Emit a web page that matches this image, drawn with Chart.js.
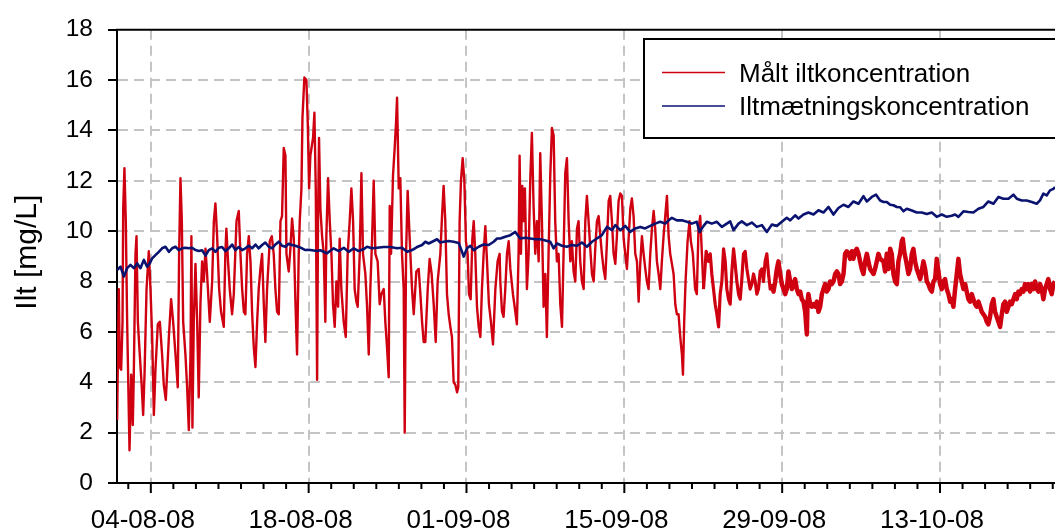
<!DOCTYPE html>
<html lang="da">

<head>
    <meta charset="UTF-8">
    <title>Ilt</title>
    <script src="https://cdn.jsdelivr.net/npm/chart.js"></script>
    <style>
        body {
            margin: 0;
            background: #fff;
        }

        .box {
            width: 1055px;
            height: 531px;
        }
    </style>
</head>

<body>
    <div class="box"><canvas id="myChart"></canvas></div>

    <script>
        // tid i dage efter 01-08-08 00:00
        const redDays = [
            0.01, 0.16, 0.25, 0.37, 0.49, 0.55, 0.66, 0.78, 0.90, 1.11,
            1.26, 1.40, 1.49, 1.64, 1.73, 1.85, 2.02, 2.20, 2.32, 2.44,
            2.62, 2.82, 2.97, 3.12, 3.27, 3.41, 3.62, 3.80, 4.00, 4.15,
            4.33, 4.60, 4.80, 4.98, 5.19, 5.39, 5.51, 5.63, 5.75, 5.87,
            6.07, 6.22, 6.37, 6.52, 6.60, 6.69, 6.81, 6.96, 7.11, 7.25,
            7.40, 7.55, 7.70, 7.85, 7.99, 8.23, 8.44, 8.59, 8.73, 8.88,
            9.06, 9.23, 9.47, 9.61, 9.70, 9.85, 10.00, 10.21, 10.36, 10.60,
            10.80, 10.95, 11.10, 11.25, 11.39, 11.54, 11.69, 11.84, 11.98, 12.13,
            12.28, 12.43, 12.57, 12.72, 12.87, 13.02, 13.16, 13.31, 13.55, 13.73,
            13.90, 14.05, 14.20, 14.35, 14.50, 14.64, 14.79, 14.94, 15.03, 15.23,
            15.38, 15.53, 15.68, 15.82, 15.97, 16.12, 16.21, 16.36, 16.45, 16.62,
            16.80, 16.92, 17.04,
            17.15, 17.39, 17.51, 17.63, 17.75, 17.83, 17.92, 18.04, 18.19, 18.34,
            18.48, 18.57, 18.72, 18.87, 19.02, 19.16, 19.31, 19.46, 19.61, 19.75,
            19.90, 20.11, 20.29, 20.46, 20.64, 20.79, 20.94, 21.08, 21.23, 21.35,
            21.53, 21.68, 21.82, 22.03, 22.18, 22.33, 22.47, 22.62, 22.77, 22.92,
            23.12, 23.30, 23.45, 23.66, 23.80, 23.95, 24.10, 24.19, 24.31, 24.48,
            24.63, 24.75, 24.84, 24.99, 25.13, 25.28, 25.43, 25.52, 25.64, 25.78,
            25.96, 26.17, 26.32, 26.55, 26.76, 26.91, 27.06, 27.20, 27.35, 27.56,
            27.73, 27.91, 28.09, 28.27, 28.44, 28.68, 28.83, 28.97, 29.12, 29.27,
            29.42, 29.57, 29.71, 29.86, 30.01, 30.16, 30.27, 30.39, 30.51, 30.66,
            30.81, 30.95, 31.10, 31.22, 31.37, 31.52, 31.64, 31.78, 31.93, 32.08,
            32.23, 32.37, 32.52, 32.67, 32.82, 32.99, 33.17, 33.35, 33.56, 33.76,
            33.94,
            34.00, 34.15, 34.29, 34.44, 34.59, 34.74, 34.89, 35.12, 35.33, 35.47,
            35.62, 35.71, 35.83, 35.95, 36.07, 36.18, 36.36, 36.51, 36.66, 36.80,
            36.95, 37.10, 37.25, 37.40, 37.54, 37.69, 37.84, 37.99, 38.13, 38.28,
            38.43, 38.58, 38.73, 38.87, 39.02, 39.17, 39.32, 39.47, 39.61, 39.76,
            39.91, 40.06, 40.21, 40.35, 40.50, 40.65, 40.80, 40.94, 41.09, 41.24,
            41.39, 41.54, 41.68, 41.83, 41.98, 42.13, 42.28, 42.42, 42.57, 42.72,
            42.87, 43.01, 43.16, 43.31, 43.46, 43.61, 43.75, 43.90, 44.05, 44.20,
            44.34, 44.49, 44.64, 44.79, 44.94, 45.08, 45.23, 45.38, 45.53, 45.67,
            45.82, 45.97, 46.12, 46.27, 46.41, 46.56, 46.71, 46.86, 47.00, 47.15,
            47.30, 47.45, 47.60, 47.74, 47.89, 48.04, 48.19, 48.33, 48.48, 48.63,
            48.78, 48.93, 49.07, 49.22, 49.37, 49.52, 49.66, 49.81, 49.96, 50.11,
            50.20, 50.31, 50.43, 50.61, 50.78, 50.90, 51.08, 51.28, 51.43, 51.58,
            51.73,
            52.02, 52.26, 52.47, 52.62, 52.76, 52.91, 53.06, 53.21, 53.36, 53.50,
            53.65, 53.80, 53.95, 54.09, 54.24, 54.39, 54.54, 54.69, 54.83, 54.98,
            55.13, 55.28, 55.42, 55.57, 55.72, 55.87, 56.01, 56.16, 56.31, 56.46,
            56.61, 56.75, 56.90, 57.05, 57.20, 57.34, 57.49, 57.64, 57.79, 57.94,
            58.08, 58.23, 58.38, 58.53, 58.67, 58.82, 58.97, 59.12, 59.27, 59.41,
            59.56, 59.71, 59.86, 60.00, 60.15, 60.30, 60.45, 60.60, 60.74, 60.89,
            61.04, 61.19, 61.25, 61.33, 61.48, 61.63, 61.78, 61.93, 62.07, 62.22,
            62.37, 62.52, 62.66, 62.81, 62.96, 63.11, 63.25, 63.40, 63.55, 63.70,
            63.85, 63.99, 64.14, 64.29, 64.44, 64.58, 64.73, 64.88, 65.03, 65.18,
            65.32, 65.47, 65.62, 65.77, 65.91, 66.06, 66.21, 66.36, 66.51, 66.65,
            66.80, 66.95, 67.10, 67.24, 67.39, 67.54, 67.69,
            67.98, 68.13, 68.28, 68.43, 68.58, 68.72, 68.87, 69.02, 69.17, 69.31,
            69.46, 69.61, 69.70, 69.82, 70.00, 70.20, 70.35, 70.50, 70.64, 70.79,
            70.94, 71.09, 71.24, 71.38, 71.53, 71.68, 71.83, 71.97, 72.12, 72.27,
            72.42, 72.57, 72.71, 72.86, 73.01, 73.16, 73.30, 73.45, 73.60, 73.75,
            73.90, 74.04, 74.19, 74.34, 74.49, 74.63, 74.78, 74.93, 75.08, 75.23,
            75.37, 75.52, 75.67, 75.82, 75.96, 76.11, 76.26, 76.41, 76.56, 76.70,
            76.85, 77.00, 77.15, 77.29, 77.44, 77.59, 77.74, 77.88, 78.03, 78.18,
            78.33, 78.48, 78.62, 78.77, 78.92, 79.07, 79.21, 79.36, 79.51, 79.66,
            79.81, 79.95, 80.10, 80.25, 80.40, 80.54, 80.69, 80.84, 80.99, 81.14,
            81.28, 81.43, 81.58, 81.73, 81.87, 82.02, 82.17, 82.32, 82.46, 82.61,
            82.76, 82.91, 83.06, 83.20
        ];

        const redValues = [
            2.5, 7.7, 4.6, 4.5, 6.4, 10.9, 12.5, 10.4, 6.4, 1.3,
            4.3, 2.3, 4.3, 9.1, 9.8, 6.4, 5.1, 3.8, 2.7, 4.3,
            7.7, 9.2, 7.7, 5.8, 2.7, 4.5, 6.3, 6.4, 5.1, 3.9,
            3.3, 5.8, 7.3, 6.4, 5.1, 3.8, 9.1, 12.1, 10.4, 6.4,
            5.1, 3.8, 2.1, 5.1, 9.8, 2.2, 6.4, 8.7, 6.4, 3.4,
            7.1, 8.8, 8.0, 9.3, 8.3, 6.4, 8.0, 10.4, 11.1, 9.8,
            7.7, 6.8, 6.2, 9.1, 10.1, 8.8, 7.7, 6.7, 7.5, 10.4,
            10.8, 9.1, 7.7, 6.8, 6.7, 9.1, 9.8, 8.8, 6.8, 5.4,
            4.6, 6.4, 7.7, 8.5, 9.1, 7.1, 5.6, 7.7, 9.6, 9.8,
            9.1, 7.7, 6.8, 6.7, 10.4, 10.6, 13.3, 13.0, 9.1, 8.4,
            9.3, 10.5, 9.7, 7.3, 5.1, 9.1, 10.4, 11.7, 14.5, 16.1,
            16.0, 14.3, 11.7,
            13.0, 13.7, 14.7, 11.7, 4.1, 10.4, 13.7, 10.9, 9.8, 9.1,
            6.4, 9.8, 12.1, 10.4, 9.1, 7.1, 6.2, 8.0, 7.0, 9.7,
            7.7, 6.4, 5.8, 9.1, 10.4, 11.7, 10.4, 7.7, 7.2, 7.0,
            9.1, 12.3, 9.1, 8.3, 7.0, 5.1, 7.7, 9.6, 12.0, 9.1,
            8.8, 7.1, 7.5, 7.7, 6.4, 5.4, 4.2, 11.0, 9.1, 12.2,
            13.3, 14.3, 15.3, 11.7, 12.1, 9.1, 7.7, 2.0, 9.1, 11.6,
            9.7, 7.7, 6.7, 8.4, 8.5, 7.5, 6.4, 5.6, 5.6, 7.7,
            8.9, 8.3, 7.1, 5.6, 8.0, 9.1, 10.6, 11.8, 10.4, 7.5,
            6.7, 6.2, 5.8, 4.0, 3.9, 3.6, 3.8, 10.4, 12.0, 12.9,
            12.0, 9.6, 9.1, 7.5, 7.3, 9.7, 10.4, 9.1, 7.0, 6.2,
            5.8, 7.7, 9.1, 10.2, 8.8, 7.1, 6.4, 5.5, 7.7, 8.8,
            9.1,
            8.0, 6.8, 6.6, 7.7, 9.1, 9.6, 8.5, 7.5, 6.8, 6.3,
            9.1, 13.0, 9.1, 11.8, 10.4, 11.7, 7.7, 9.1, 12.1, 13.9,
            11.0, 9.1, 10.4, 8.8, 13.1, 10.4, 7.0, 8.3, 5.8, 9.1,
            12.2, 14.1, 13.8, 10.4, 8.8, 9.1, 7.1, 6.2, 9.1, 12.3,
            12.9, 10.4, 8.8, 9.6, 8.4, 8.0, 10.1, 10.4, 8.8, 8.0,
            7.7, 10.4, 11.4, 10.4, 9.3, 8.3, 8.0, 9.3, 10.4, 10.6,
            9.8, 9.1, 8.5, 8.1, 9.6, 11.2, 11.4, 10.4, 9.1, 8.7,
            9.8, 11.2, 11.5, 11.4, 9.7, 9.1, 8.5, 9.7, 10.9, 11.3,
            10.6, 9.1, 8.8, 7.2, 8.7, 9.8, 9.1, 8.5, 8.0, 7.7,
            9.1, 10.1, 10.8, 10.1, 8.8, 8.3, 7.7, 8.8, 9.8, 10.6,
            11.4, 9.8, 9.1, 8.7, 8.3, 7.1, 6.7, 6.7, 5.8, 5.1,
            4.3, 6.4, 8.0, 9.6, 10.4, 9.6, 9.1, 7.7, 7.5, 10.1,
            10.6,
            7.7, 9.2, 8.8, 9.1, 8.3, 7.7, 7.1, 6.7, 6.2, 7.5,
            8.0, 9.3, 8.8, 7.7, 7.3, 7.1, 8.4, 9.3, 8.7, 8.0,
            7.5, 7.3, 8.1, 9.1, 9.2, 8.5, 8.1, 7.7, 7.9, 8.3,
            8.0, 7.5, 7.7, 8.4, 8.5, 8.0, 8.8, 9.1, 8.3, 7.7,
            7.9, 7.6, 8.0, 8.5, 8.8, 8.3, 7.9, 7.7, 7.5, 7.7,
            8.4, 8.0, 7.7, 7.9, 8.1, 7.7, 7.5, 7.6, 7.3, 7.2,
            6.8, 5.9, 7.2, 7.5, 7.1, 7.0, 7.1, 7.0, 7.2, 6.8,
            7.0, 7.5, 7.7, 7.9, 7.6, 7.7, 8.0, 7.9, 8.0, 8.3,
            8.4, 8.3, 7.9, 8.0, 8.3, 9.1, 9.2, 9.1, 8.9, 9.2,
            8.9, 9.2, 9.3, 9.1, 8.8, 8.5, 8.3, 8.8, 9.1, 8.8,
            8.5, 8.4, 8.3, 8.5, 8.8, 9.1, 8.9,
            8.8, 8.4, 9.1, 8.5, 9.3, 9.1, 8.3, 8.0, 7.9, 8.8,
            9.1, 9.6, 9.7, 9.2, 8.8, 8.3, 8.5, 9.1, 9.3, 8.8,
            8.5, 8.3, 8.1, 8.4, 8.8, 8.5, 8.0, 7.9, 7.7, 7.6,
            8.0, 8.1, 8.9, 8.4, 7.9, 7.7, 8.0, 8.1, 7.7, 7.5,
            7.2, 7.3, 7.0, 7.7, 8.3, 8.9, 8.3, 8.0, 7.7, 7.9,
            7.6, 7.3, 7.2, 7.5, 7.3, 7.1, 7.0, 7.2, 7.0, 6.8,
            6.7, 6.6, 6.4, 6.3, 6.6, 7.1, 7.3, 6.8, 6.6, 6.4,
            6.2, 6.7, 7.1, 7.2, 6.8, 7.0, 7.2, 7.1, 7.3, 7.5,
            7.3, 7.6, 7.5, 7.7, 7.6, 7.9, 7.7, 7.9, 7.6, 7.9,
            7.7, 8.0, 7.7, 7.6, 7.9, 7.7, 7.3, 7.7, 7.9, 8.1,
            7.7, 7.5, 7.9, 8.0
        ];

        const blueDays = [
            0.01, 0.31, 0.61, 0.90, 1.20, 1.49, 1.79, 2.08, 2.38, 2.67,
            2.82, 3.12, 3.41, 3.71, 4.00, 4.30, 4.60, 4.89, 5.19, 5.48,
            5.78, 6.07, 6.37, 6.66, 6.96, 7.25, 7.55, 7.85, 8.14, 8.44,
            8.73, 9.03, 9.32, 9.62, 9.91, 10.21, 10.50, 10.80, 11.10, 11.39,
            11.69, 11.98, 12.28, 12.57, 12.87, 13.16, 13.46, 13.76, 14.05, 14.35,
            14.64, 14.94, 15.23, 15.53, 15.82, 16.12, 16.41, 16.71, 17.01, 17.30,
            17.74, 18.04, 18.63, 19.22, 19.67, 20.11, 20.55, 21.00, 21.44, 21.88,
            22.18, 22.62, 23.07, 23.66, 24.25, 24.84, 25.28, 25.73, 26.17, 26.61,
            27.06, 27.35, 27.65, 28.09, 28.39, 28.68, 28.98, 29.42, 29.86, 30.31,
            30.60, 30.75, 31.05, 31.34, 31.64, 32.08, 32.52, 32.97, 33.41, 33.71,
            34.00, 34.44, 34.89, 35.33, 35.77, 36.22, 36.66, 37.10, 37.55, 37.99,
            38.43, 38.73, 39.02, 39.47, 39.91, 40.35, 40.80, 41.24, 41.68, 42.13,
            42.57, 43.01, 43.46, 43.90, 44.20, 44.64, 45.08, 45.52, 45.97, 46.41,
            46.85, 47.30, 47.74, 48.18, 48.63, 48.92, 49.22, 49.66, 50.11, 50.55,
            50.99, 51.43, 51.67, 52.03, 52.32, 52.76, 53.21, 53.65, 54.09, 54.39,
            54.69, 55.13, 55.42, 55.87, 56.31, 56.75, 57.20, 57.64, 58.08, 58.53,
            58.97, 59.41, 59.71, 60.15, 60.45, 60.89, 61.33, 61.78, 62.22, 62.66,
            63.11, 63.55, 63.99, 64.44, 64.88, 65.32, 65.77, 66.21, 66.51, 66.95,
            67.33, 67.69, 67.99, 68.28, 68.58, 68.87, 69.17, 69.46, 69.76, 70.05,
            70.50, 70.94, 71.38, 71.83, 72.27, 72.71, 73.16, 73.60, 74.04, 74.34,
            74.63, 75.08, 75.52, 75.96, 76.41, 76.85, 77.29, 77.74, 78.18, 78.62,
            79.07, 79.51, 79.81, 80.25, 80.69, 81.14, 81.58, 81.87, 82.17, 82.46,
            82.76, 83.06, 83.20
        ];

        const blueValues = [
            8.46, 8.59, 8.20, 8.53, 8.66, 8.53, 8.72, 8.53, 8.86, 8.59,
            8.66, 8.92, 9.05, 9.18, 9.32, 9.38, 9.18, 9.32, 9.38, 9.25,
            9.32, 9.34, 9.32, 9.34, 9.25, 9.21, 9.24, 9.03, 9.25, 9.32,
            9.18, 9.34, 9.37, 9.21, 9.32, 9.47, 9.25, 9.37, 9.25, 9.32,
            9.42, 9.32, 9.47, 9.32, 9.45, 9.55, 9.38, 9.32, 9.47, 9.58,
            9.42, 9.38, 9.50, 9.45, 9.42, 9.37, 9.32, 9.25, 9.26, 9.24,
            9.21, 9.24, 9.12, 9.32, 9.21, 9.34, 9.18, 9.32, 9.21, 9.29,
            9.38, 9.32, 9.34, 9.37, 9.37, 9.32, 9.34, 9.18, 9.25, 9.37,
            9.45, 9.58, 9.51, 9.61, 9.68, 9.55, 9.58, 9.61, 9.58, 9.53,
            9.18, 8.99, 9.32, 9.42, 9.25, 9.38, 9.47, 9.45, 9.58, 9.71,
            9.71, 9.78, 9.84, 9.97, 9.71, 9.74, 9.71, 9.68, 9.68, 9.63,
            9.58, 9.32, 9.51, 9.42, 9.38, 9.45, 9.42, 9.55, 9.38, 9.58,
            9.71, 9.84, 10.17, 10.04, 10.24, 10.04, 10.21, 9.97, 10.11, 10.17,
            10.11, 10.21, 10.30, 10.37, 10.30, 10.43, 10.53, 10.43, 10.43, 10.37,
            10.30, 10.37, 9.97, 10.21, 10.37, 10.30, 10.37, 10.17, 10.30, 10.39,
            10.04, 10.30, 10.39, 10.24, 10.34, 10.17, 10.24, 9.97, 10.26, 10.21,
            10.37, 10.53, 10.43, 10.63, 10.50, 10.66, 10.74, 10.66, 10.83, 10.74,
            10.96, 10.66, 10.92, 11.05, 10.96, 11.18, 11.09, 11.39, 11.18, 11.36,
            11.45, 11.22, 11.16, 11.16, 11.05, 11.03, 10.96, 10.95, 10.79, 10.89,
            10.82, 10.74, 10.74, 10.68, 10.74, 10.57, 10.66, 10.57, 10.61, 10.66,
            10.57, 10.79, 10.76, 10.74, 10.89, 10.96, 11.18, 11.09, 11.36, 11.29,
            11.29, 11.45, 11.29, 11.22, 11.22, 11.16, 11.09, 11.22, 11.49, 11.42,
            11.62, 11.68, 11.75
        ];

        const tickDays = [3, 17, 31, 45, 59, 73];
        const tickLabels = ['04-08-08', '18-08-08', '01-09-08', '15-09-08', '29-09-08', '13-10-08'];
        const minorDays = [];
        for (let d = 1; d <= 83; d += 2) minorDays.push(d);

        const seriesNames = ['Målt iltkoncentration', 'Iltmætningskoncentration'];

        const fontFamily = 'Arial, "Liberation Sans", sans-serif';
        const gridGray = '#c4c4c4';
        const none = 'rgba(0,0,0,0)';

        Chart.defaults.font.family = fontFamily;
        Chart.defaults.color = '#000';

        function toPoints(days, values) {
            return days.map((d, i) => ({ x: d, y: values[i] }));
        }

        // legend box inside the plot
        const legendBox = {
            id: 'legendBox',
            afterDraw(chart) {
                const ctx = chart.ctx;
                ctx.save();
                ctx.fillStyle = '#fff';
                ctx.fillRect(644, 39, 420, 99);
                ctx.strokeStyle = '#000';
                ctx.lineWidth = 2;
                ctx.strokeRect(644, 39, 420, 99);
                ctx.font = '26px ' + fontFamily;
                ctx.textBaseline = 'alphabetic';
                chart.data.datasets.forEach((ds, i) => {
                    const y = 72.5 + i * 33.5;
                    ctx.strokeStyle = ds.borderColor;
                    ctx.lineWidth = 1.6;
                    ctx.beginPath();
                    ctx.moveTo(662, y);
                    ctx.lineTo(725, y);
                    ctx.stroke();
                    ctx.fillStyle = '#000';
                    ctx.fillText(ds.label, 739, y + 9.2);
                });
                ctx.restore();
            }
        };

        // top border and x tick marks (major / minor)
        const frame = {
            id: 'frame',
            afterDatasetsDraw(chart) {
                const { ctx, chartArea: a } = chart;
                const x = chart.scales.x;
                ctx.save();
                ctx.strokeStyle = '#000';
                ctx.lineWidth = 2;
                ctx.beginPath();
                ctx.moveTo(a.left - 1, a.top);
                ctx.lineTo(a.right, a.top);
                x.ticks.forEach(t => {
                    const px = x.getPixelForValue(t.value);
                    const len = tickDays.includes(t.value) ? 10 : 6;
                    ctx.moveTo(px, a.bottom);
                    ctx.lineTo(px, a.bottom + len);
                });
                ctx.stroke();
                ctx.restore();
            }
        };

        const ctx = document.getElementById('myChart').getContext('2d');

        const chart = new Chart(ctx, {
            type: 'line',
            data: {
                datasets: [{
                    label: seriesNames[0],
                    data: toPoints(redDays, redValues),
                    borderColor: '#cf0010',
                    borderWidth: 2.4,
                    borderJoinStyle: 'round',
                    segment: {
                        // the logger gets noisier towards the end: the trace reads as a band
                        borderWidth: c => c.p0.parsed.x > 58 ? 4.5 : (c.p0.parsed.x > 52 ? 3.2 : 2.4)
                    },
                    pointRadius: 0,
                    tension: 0,
                    order: 1
                }, {
                    label: seriesNames[1],
                    data: toPoints(blueDays, blueValues),
                    borderColor: '#0a1370',
                    borderWidth: 2.6,
                    borderJoinStyle: 'round',
                    pointRadius: 0,
                    tension: 0,
                    order: 0
                }]
            },
            options: {
                responsive: true,
                maintainAspectRatio: false,
                animation: false,
                devicePixelRatio: 1,
                layout: {
                    padding: { top: 27, right: 0, left: 0, bottom: 0 }
                },
                plugins: {
                    legend: { display: false },
                    tooltip: { enabled: false }
                },
                scales: {
                    x: {
                        type: 'linear',
                        min: 0,
                        max: 83.2,
                        afterBuildTicks: s => {
                            s.ticks = minorDays.map(v => ({ value: v }));
                        },
                        afterFit: s => {
                            s.height = 48;
                        },
                        grid: {
                            color: c => (c.tick && tickDays.includes(c.tick.value)) ? gridGray : none,
                            lineWidth: 2,
                            drawTicks: true,
                            tickLength: 22,
                            tickColor: none
                        },
                        border: { color: '#000', width: 2, dash: [10, 6] },
                        ticks: {
                            autoSkip: false,
                            maxRotation: 0,
                            padding: 0,
                            labelOffset: -8,
                            font: { size: 26 },
                            callback: v => {
                                const i = tickDays.indexOf(v);
                                return i < 0 ? '' : tickLabels[i];
                            }
                        }
                    },
                    y: {
                        min: 0,
                        max: 18,
                        afterFit: s => {
                            s.width = 117;
                        },
                        ticks: {
                            stepSize: 2,
                            padding: 15,
                            font: { size: 24.5 }
                        },
                        grid: {
                            color: c => (c.tick && c.tick.value > 0 && c.tick.value < 18) ? gridGray : none,
                            lineWidth: 2,
                            tickColor: '#000',
                            tickLength: 9,
                            tickWidth: 2
                        },
                        border: { color: '#000', width: 2, dash: [10, 6] },
                        title: {
                            display: true,
                            text: ' Ilt [mg/L]',
                            font: { size: 30 },
                            padding: { top: 10, bottom: 0 }
                        }
                    }
                }
            },
            plugins: [frame, legendBox]
        });
    </script>

</body>

</html>
